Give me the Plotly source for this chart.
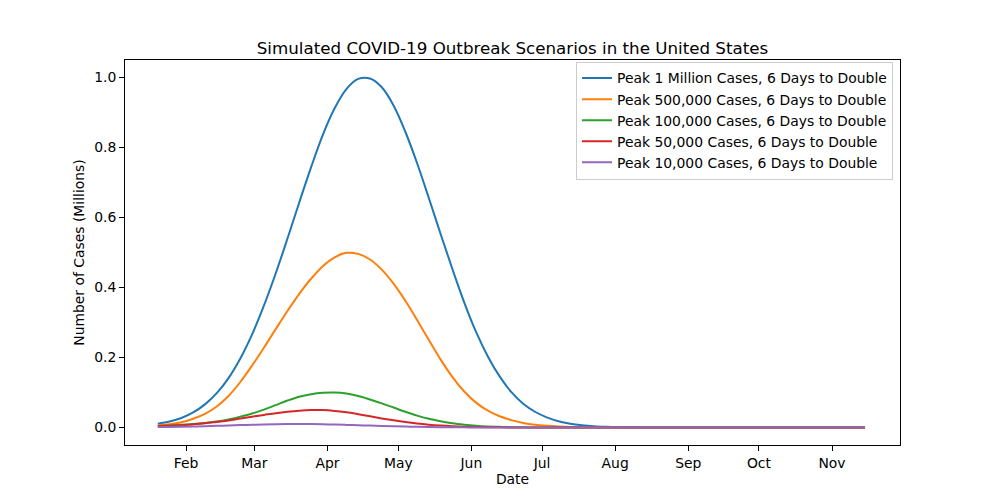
import pandas as pd
import plotly.graph_objects as go

# Dates: every 5 days from 2020-01-20 to 2020-11-15 (61 points)
start_date = "2020-01-20"
n_points = 61
dates = pd.date_range(start_date, periods=n_points, freq="5D")

# Values (millions of cases)
peak_1m = [0.011, 0.017, 0.027, 0.043, 0.066, 0.098, 0.141, 0.197, 0.266, 0.348,
           0.440, 0.540, 0.643, 0.743, 0.836, 0.912, 0.967, 0.996, 0.997, 0.972,
           0.920, 0.845, 0.755, 0.655, 0.552, 0.452, 0.357, 0.273, 0.203, 0.146,
           0.101, 0.068, 0.045, 0.029, 0.018, 0.011, 0.0065, 0.0036, 0.002, 0.001,
           0.0005, 0.0002, 0, 0, 0, 0, 0, 0, 0, 0,
           0, 0, 0, 0, 0, 0, 0, 0, 0, 0, 0]
peak_500k = [0.006, 0.009, 0.015, 0.025, 0.039, 0.060, 0.090, 0.130, 0.177, 0.228,
             0.281, 0.333, 0.382, 0.425, 0.461, 0.486, 0.499, 0.496, 0.480, 0.451,
             0.411, 0.362, 0.307, 0.250, 0.194, 0.144, 0.103, 0.071, 0.048, 0.032,
             0.021, 0.013, 0.008, 0.005, 0.003, 0.0017, 0.001, 0.0005, 0.0002, 0,
             0, 0, 0, 0, 0, 0, 0, 0, 0, 0,
             0, 0, 0, 0, 0, 0, 0, 0, 0, 0, 0]
peak_100k = [0.0045, 0.006, 0.008, 0.010, 0.013, 0.017, 0.023, 0.031, 0.040, 0.051,
             0.064, 0.077, 0.088, 0.095, 0.099, 0.100, 0.097, 0.090, 0.080, 0.069,
             0.057, 0.045, 0.034, 0.025, 0.018, 0.012, 0.008, 0.005, 0.003, 0.002,
             0.001, 0.0005, 0.0002, 0, 0, 0, 0, 0, 0, 0,
             0, 0, 0, 0, 0, 0, 0, 0, 0, 0,
             0, 0, 0, 0, 0, 0, 0, 0, 0, 0, 0]
peak_50k = [0.004, 0.005, 0.0065, 0.009, 0.012, 0.016, 0.020, 0.0255, 0.031, 0.036,
            0.041, 0.045, 0.048, 0.0497, 0.0497, 0.0475, 0.0435, 0.038, 0.032, 0.026,
            0.0205, 0.0155, 0.0113, 0.008, 0.0055, 0.0036, 0.0023, 0.0014, 0.0008, 0.0004,
            0.0002, 0, 0, 0, 0, 0, 0, 0, 0, 0,
            0, 0, 0, 0, 0, 0, 0, 0, 0, 0,
            0, 0, 0, 0, 0, 0, 0, 0, 0, 0, 0]
peak_10k = [0.0012, 0.0017, 0.0023, 0.003, 0.0038, 0.0048, 0.0058, 0.0069, 0.0079, 0.0088,
            0.0095, 0.0099, 0.0100, 0.0098, 0.0093, 0.0085, 0.0075, 0.0065, 0.0054, 0.0044,
            0.0034, 0.0026, 0.0019, 0.0013, 0.0009, 0.0006, 0.0004, 0.0002, 0.0001, 0,
            0, 0, 0, 0, 0, 0, 0, 0, 0, 0,
            0, 0, 0, 0, 0, 0, 0, 0, 0, 0,
            0, 0, 0, 0, 0, 0, 0, 0, 0, 0, 0]

series_names = ["Peak 1 Million Cases, 6 Days to Double",
                "Peak 500,000 Cases, 6 Days to Double",
                "Peak 100,000 Cases, 6 Days to Double",
                "Peak 50,000 Cases, 6 Days to Double",
                "Peak 10,000 Cases, 6 Days to Double"]
series_values = [peak_1m, peak_500k, peak_100k, peak_50k, peak_10k]
colors = ["#1f77b4", "#ff7f0e", "#2ca02c", "#d62728", "#9467bd"]

month_ticks = ["2020-02-01", "2020-03-01", "2020-04-01", "2020-05-01", "2020-06-01",
               "2020-07-01", "2020-08-01", "2020-09-01", "2020-10-01", "2020-11-01"]
month_labels = ["Feb", "Mar", "Apr", "May", "Jun", "Jul", "Aug", "Sep", "Oct", "Nov"]
y_ticks = [0.0, 0.2, 0.4, 0.6, 0.8, 1.0]

FONT = "DejaVu Sans, Liberation Sans, sans-serif"

fig = go.Figure()
for name, vals, col in zip(series_names, series_values, colors):
    fig.add_trace(go.Scatter(x=dates, y=vals, mode="lines", name=name,
                             line=dict(color=col, width=2, shape="spline", smoothing=1.0)))

fig.update_layout(
    width=1000, height=500,
    margin=dict(l=125, r=100, t=60, b=55),
    paper_bgcolor="white", plot_bgcolor="white",
    font=dict(family=FONT, size=14, color="black"),
    title=dict(text="Simulated COVID-19 Outbreak Scenarios in the United States",
               x=0.5, xref="paper", xanchor="center",
               y=1, yref="paper", yanchor="bottom", pad=dict(b=6),
               font=dict(family=FONT, size=16.7, color="black")),
    showlegend=True,
    legend=dict(x=0.991, y=0.996, xanchor="right", yanchor="top",
                bgcolor="rgba(255,255,255,0.8)", bordercolor="#cccccc", borderwidth=1,
                font=dict(family=FONT, size=13.9, color="black"),
                tracegroupgap=0, itemwidth=30),
)

fig.update_xaxes(
    type="date",
    range=["2020-01-06 02:00", "2020-11-29 20:00"],
    tickvals=month_ticks, ticktext=month_labels,
    ticks="outside", ticklen=5, tickwidth=1, tickcolor="black",
    showline=True, linecolor="black", linewidth=1, mirror=True,
    showgrid=False, zeroline=False,
    tickfont=dict(family=FONT, size=13.9, color="black"),
    title=dict(text="Date", standoff=4, font=dict(family=FONT, size=13.9, color="black")),
)
fig.update_yaxes(
    range=[-0.05, 1.05],
    tickvals=y_ticks, tickformat=".1f",
    ticks="outside", ticklen=5, tickwidth=1, tickcolor="black",
    showline=True, linecolor="black", linewidth=1, mirror=True,
    showgrid=False, zeroline=False,
    tickfont=dict(family=FONT, size=13.9, color="black"),
    title=dict(text="Number of Cases (Millions)", standoff=6,
               font=dict(family=FONT, size=13.9, color="black")),
)

fig.write_html("out.html")
